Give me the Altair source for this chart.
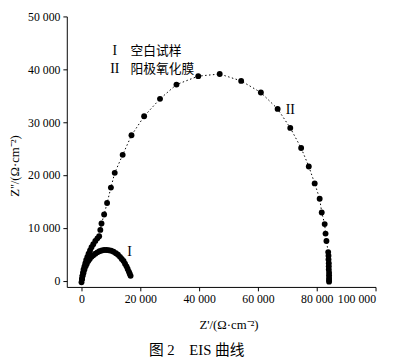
import altair as alt
import pandas as pd

# Curve I: blank sample (空白试样)
curve1_x = [200, 400, 700, 1000, 1400, 1800, 2300, 2800, 3400, 4000, 4700, 5400, 6100, 6900, 7700,
            8500, 9300, 10100, 10900, 11700, 12400, 13100, 13700, 14300, 14800, 15300, 15700, 16100, 16400, 16700]
curve1_y = [300, 900, 1500, 2100, 2700, 3200, 3700, 4100, 4500, 4800, 5100, 5350, 5550, 5700, 5800,
            5800, 5750, 5650, 5450, 5200, 4900, 4500, 4100, 3700, 3200, 2700, 2200, 1700, 1300, 900]

# Curve II: anodic oxide film (阳极氧化膜)
curve2_x = [0, 150, 300, 500, 700, 1000, 1300, 1600, 2000, 2400, 2900, 3400, 4000, 4700, 5400, 6000,
            6400, 6800, 7700, 8700, 10000, 11300, 14000, 17000, 21300, 26700, 32300, 39700, 47000,
            54300, 61000, 66700, 71000, 74700, 77300, 79300, 81000, 81700, 82700, 83000, 83300,
            83900, 84000, 84000, 84100, 84100, 84100, 84200, 84200, 84200, 84200, 84200]
curve2_y = [-300, 300, 900, 1500, 2100, 2700, 3300, 3900, 4500, 5100, 5700, 6300, 6900, 7500, 8000, 8400,
            9600, 10800, 12500, 14700, 17600, 20400, 23800, 27500, 31100, 34400, 37100, 38700, 39100,
            37800, 35600, 32500, 28900, 25100, 21600, 18400, 15500, 12900, 10700, 8900, 7500,
            5400, 4700, 4000, 3300, 2700, 2100, 1500, 1000, 500, 100, -200]

x_ticks = [0, 20000, 40000, 60000, 80000, 100000]
y_ticks = [0, 10000, 20000, 30000, 40000, 50000]

legend_numerals = ["I", "II"]
legend_names = ["空白试样", "阳极氧化膜"]
legend_y = [43400, 40000]
legend_num_x = [11300, 11300]
legend_name_x = [16700, 16700]

curve_label_text = ["I", "II"]
curve_label_x = [16300, 71000]
curve_label_y = [5400, 32300]

caption = "图\u00a02\u00a0\u00a0\u00a0\u00a0EIS\u00a0曲线"

df = pd.DataFrame({
    "x": curve1_x + curve2_x,
    "y": curve1_y + curve2_y,
    "series": ["I"] * len(curve1_x) + ["II"] * len(curve2_x),
    "order": list(range(len(curve1_x))) + list(range(len(curve2_x))),
})
legend_df = pd.DataFrame({"num": legend_numerals, "name": legend_names, "y": legend_y,
                          "nx": legend_num_x, "tx": legend_name_x})
clabel_df = pd.DataFrame({"t": curve_label_text, "x": curve_label_x, "y": curve_label_y})

SERIF = "Liberation Serif, 'Noto Sans CJK SC'"
fmt = "replace(format(datum.value, ','), ',', ' ')"

xscale = alt.Scale(domain=[-5000, 100000], nice=False, zero=False)
yscale = alt.Scale(domain=[-1200, 50000], nice=False, zero=False)
xaxis = alt.Axis(values=x_ticks, labelExpr=fmt, title="Z'/(Ω·cm⁻²)", grid=False,
                 titleX=165, titleY=32, titleFontWeight="normal", titleFont=SERIF, titleFontSize=13)
yaxis = alt.Axis(values=y_ticks, labelExpr=fmt, title="Z''/(Ω·cm⁻²)", grid=False,
                 titleX=-46, titleY=152, titleFontWeight="normal", titleFont=SERIF, titleFontSize=13)

X = alt.X("x:Q", scale=xscale, axis=xaxis)
Y = alt.Y("y:Q", scale=yscale, axis=yaxis)

lines = alt.Chart(df).mark_line(strokeDash=[1.5, 2.5], strokeWidth=1, color="black").encode(
    x=X, y=Y, detail="series:N", order="order:Q")
points = alt.Chart(df).mark_circle(size=36, color="black", opacity=1).encode(x=X, y=Y)

leg_num = alt.Chart(legend_df).mark_text(font=SERIF, fontSize=14, color="black", align="center",
                                         baseline="middle").encode(
    x=alt.X("nx:Q", scale=xscale, axis=xaxis), y=alt.Y("y:Q", scale=yscale, axis=yaxis), text="num:N")
leg_name = alt.Chart(legend_df).mark_text(font="Noto Sans CJK SC", fontSize=13, color="black",
                                          align="left", baseline="middle").encode(
    x=alt.X("tx:Q", scale=xscale, axis=xaxis), y=alt.Y("y:Q", scale=yscale, axis=yaxis), text="name:N")
clabels = alt.Chart(clabel_df).mark_text(font=SERIF, fontSize=14, color="black", align="center",
                                         baseline="middle").encode(
    x=X, y=Y, text="t:N")

chart = alt.layer(lines, points, leg_num, leg_name, clabels).properties(
    width=315, height=276,
    autosize=alt.AutoSizeParams(type="none"),
    padding={"left": 60, "top": 5, "right": 27, "bottom": 74},
    title=alt.TitleParams(caption, orient="bottom", offset=12, dx=-25,
                          font=SERIF, fontSize=15, fontWeight="normal", color="black"),
).configure_view(stroke=None).configure_axis(
    domainColor="black", tickColor="black", tickSize=4, labelFont="Liberation Serif",
    labelFontSize=12, labelColor="black", titleColor="black", labelPadding=3,
)

chart.save("out.html", embed_options={"renderer": "svg", "actions": False})
